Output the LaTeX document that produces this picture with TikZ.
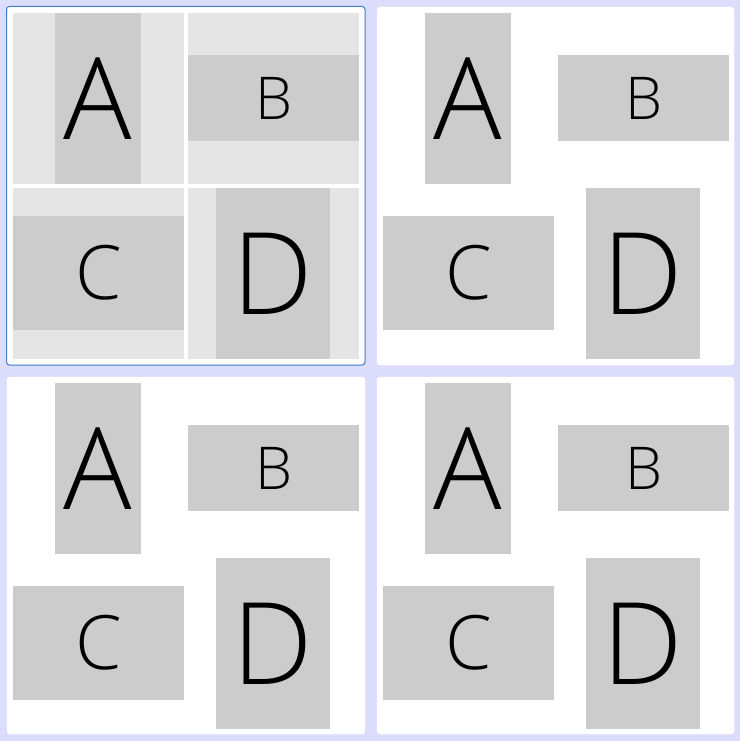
\documentclass[tikz,border=0pt]{standalone}
\usepackage{fontspec}
\setmainfont{Open Sans Light}
\usepackage{tikz}
\usetikzlibrary{positioning,backgrounds}
\definecolor{bglav}{RGB}{220,220,252}
\definecolor{boxgray}{RGB}{204,204,204}
\definecolor{cellgray}{RGB}{229,229,229}
\definecolor{selblue}{RGB}{60,125,200}

\tikzset{
  panel/.style={fill=white, draw=white, rounded corners=3pt},
  cell/.style={fill=cellgray},
  tallbox/.style={fill=boxgray, inner sep=0pt, minimum width=86pt, minimum height=171pt, font=\fontsize{114}{114}\selectfont},
  widebox/.style={fill=boxgray, inner sep=0pt, minimum width=171pt, minimum height=86pt, font=\fontsize{59}{59}\selectfont},
  cbox/.style={fill=boxgray, inner sep=0pt, minimum width=171pt, minimum height=114pt, font=\fontsize{75}{75}\selectfont},
  dbox/.style={fill=boxgray, inner sep=0pt, minimum width=114pt, minimum height=171pt, font=\fontsize{114}{114}\selectfont}
}

\begin{document}
\begin{tikzpicture}[x=1pt, y=-1pt]
    % Sfondo
    \fill[bglav] (0,0) rectangle (740,741);
    \useasboundingbox (0,0) rectangle (740,741);

    % Pannello 1 (selezionato, con celle della griglia)
    \begin{scope}
        \draw[panel, draw=selblue, line width=1pt] (6.5,6.5) rectangle (365,365);
        \fill[cell] (13,13) rectangle (184,184);
        \fill[cell] (188,13) rectangle (359,184);
        \fill[cell] (13,188) rectangle (184,359);
        \fill[cell] (188,188) rectangle (359,359);
        \node[tallbox] (A1) at (98,98.5) {A};
        \node[widebox] (B1) at (273.5,98) {B};
        \node[cbox] (C1) at (98.5,273) {C};
        \node[dbox] (D1) at (273,273.5) {D};
    \end{scope}

    % Pannello 2
    \begin{scope}[shift={(370,0)}]
        \draw[panel] (7,7) rectangle (364,365);
        \node[tallbox] (A2) at (98,98.5) {A};
        \node[widebox] (B2) at (273.5,98) {B};
        \node[cbox] (C2) at (98.5,273) {C};
        \node[dbox] (D2) at (273,273.5) {D};
    \end{scope}

    % Pannello 3
    \begin{scope}[shift={(0,370)}]
        \draw[panel] (7,7) rectangle (365,364);
        \node[tallbox] (A3) at (98,98.5) {A};
        \node[widebox] (B3) at (273.5,98) {B};
        \node[cbox] (C3) at (98.5,273) {C};
        \node[dbox] (D3) at (273,273.5) {D};
    \end{scope}

    % Pannello 4
    \begin{scope}[shift={(370,370)}]
        \draw[panel] (7,7) rectangle (364,364);
        \node[tallbox] (A4) at (98,98.5) {A};
        \node[widebox] (B4) at (273.5,98) {B};
        \node[cbox] (C4) at (98.5,273) {C};
        \node[dbox] (D4) at (273,273.5) {D};
    \end{scope}
\end{tikzpicture}
\end{document}
